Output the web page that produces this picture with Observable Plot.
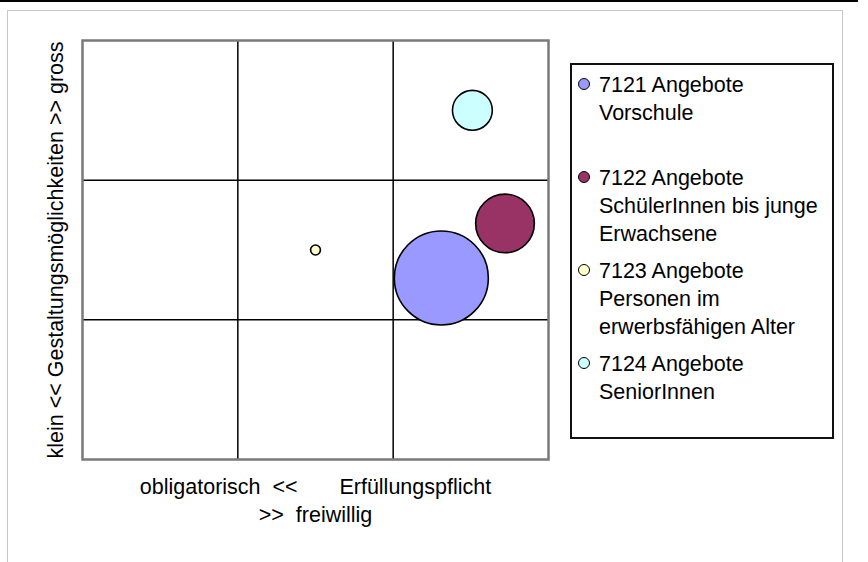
<!DOCTYPE html>
<html>
<head>
<meta charset="utf-8">
<script src="https://cdn.jsdelivr.net/npm/d3@7"></script>
<script src="https://cdn.jsdelivr.net/npm/@observablehq/plot@0.6"></script>
<style>
  html, body { margin: 0; padding: 0; background: #fff; }
  body { font-family: Arial, "Liberation Sans", sans-serif; }
  #page { position: relative; width: 868px; height: 562px; overflow: hidden; }
  #topline { position: absolute; left: 0; top: 0; width: 858px; height: 2px; background: #000; }
  #sheet { position: absolute; left: 7px; top: 10px; width: 836px; height: 600px;
           border: 1px solid #c8c8c8; box-sizing: border-box; }
  #chart { position: absolute; left: 0; top: 0; }
  #legend { position: absolute; left: 570px; top: 63px; width: 264px; height: 376px;
            box-sizing: border-box; border: 2px solid #111; padding-top: 6px; }
  .item { position: relative; height: 93px; padding-left: 27px; width: 230px;
          font-size: 21.5px; line-height: 28px; color: #000; }
  .swatch { position: absolute; left: 6px; top: 7px; width: 10px; height: 10px;
            border: 1.6px solid #000; border-radius: 50%; }
</style>
</head>
<body>
<div id="page">
  <div id="topline"></div>
  <div id="sheet"></div>
  <div id="chart"></div>
  <div id="legend"></div>
</div>
<script>
// Portfolio of services: obligation (x) vs. room for shaping (y), bubble = volume
const series = [
  "7121 Angebote Vorschule",
  "7122 Angebote SchülerInnen bis junge Erwachsene",
  "7123 Angebote Personen im erwerbsfähigen Alter",
  "7124 Angebote SeniorInnen"
];
const pflicht = [2.31, 2.72, 1.5, 2.51];      // obligatorisch << >> freiwillig
const gestaltung = [1.3, 1.69, 1.5, 2.5];     // klein << >> gross
const umfang = [100, 39, 1.1, 18];            // bubble size
const colors = ["#9999FF", "#993366", "#FFFFCC", "#CCFFFF"];
const gridTicks = [1, 2];

const xLabel = "obligatorisch\u00a0\u00a0<<\u00a0\u00a0\u00a0\u00a0\u00a0\u00a0\u00a0Erfüllungspflicht\n>>\u00a0\u00a0freiwillig";
const yLabel = "klein\u00a0<<\u00a0Gestaltungsmöglichkeiten\u00a0>>\u00a0gross";

const data = series.map((name, i) => ({
  name, x: pflicht[i], y: gestaltung[i], size: umfang[i], color: colors[i]
}));

const chart = Plot.plot({
  width: 868,
  height: 562,
  marginLeft: 82,
  marginTop: 40,
  marginRight: 320,
  marginBottom: 103,
  style: { fontFamily: "Arial, 'Liberation Sans', sans-serif", background: "transparent" },
  x: { domain: [0, 3], axis: null },
  y: { domain: [0, 3], axis: null },
  r: { type: "sqrt", domain: [0, 100], range: [0, 47] },
  marks: [
    Plot.ruleX(gridTicks, { stroke: "#000", strokeWidth: 1.5 }),
    Plot.ruleY(gridTicks, { stroke: "#000", strokeWidth: 1.5 }),
    Plot.frame({ stroke: "#7a7a7a", strokeWidth: 2.5 }),
    Plot.dot(data, {
      x: "x", y: "y", r: "size", fill: "color",
      stroke: "#000", strokeWidth: 1.6
    }),
    Plot.text([xLabel], {
      text: d => d, frameAnchor: "bottom", lineAnchor: "top",
      dy: 15, fontSize: 21.5, lineHeight: 1.3, fill: "#000"
    }),
    Plot.text([yLabel], {
      text: d => d, frameAnchor: "left", rotate: -90, textAnchor: "middle",
      dx: -26, fontSize: 21.5, fill: "#000"
    })
  ]
});
document.getElementById("chart").appendChild(chart);

// Legend
const legend = d3.select("#legend");
const items = legend.selectAll("div.item").data(data).join("div").attr("class", "item");
items.append("span").attr("class", "swatch").style("background", d => d.color);
items.append("span").text(d => d.name);
</script>
</body>
</html>
